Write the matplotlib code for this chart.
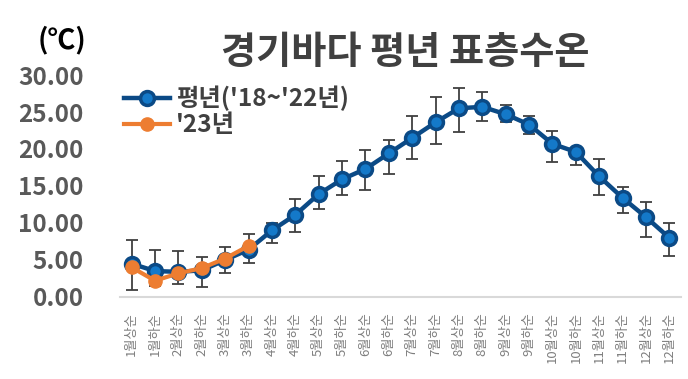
import numpy as np
import matplotlib
matplotlib.use('Agg')
import matplotlib.pyplot as plt

plt.rcParams['font.family'] = ['Noto Sans CJK KR', 'DejaVu Sans']

# data
periods = ['1월상순', '1월하순', '2월상순', '2월하순', '3월상순', '3월하순',
           '4월상순', '4월하순', '5월상순', '5월하순', '6월상순', '6월하순',
           '7월상순', '7월하순', '8월상순', '8월하순', '9월상순', '9월하순',
           '10월상순', '10월하순', '11월상순', '11월하순', '12월상순', '12월하순']
normal = [4.5, 3.5, 3.4, 3.6, 5.0, 6.4, 9.0, 11.1, 13.9, 15.9, 17.3, 19.4,
          21.5, 23.6, 25.5, 25.7, 24.7, 23.3, 20.7, 19.6, 16.3, 13.4, 10.8, 8.0]
normal_hi = [7.7, 6.4, 6.2, 5.4, 6.8, 8.5, 10.0, 13.2, 16.3, 18.4, 19.9, 21.2,
             24.4, 27.0, 28.2, 27.7, 25.9, 24.5, 22.4, 20.2, 18.6, 14.9, 12.9, 10.0]
normal_lo = [0.9, 1.5, 1.8, 1.4, 3.2, 4.6, 7.3, 8.8, 11.9, 13.8, 14.5, 16.6,
             18.7, 20.7, 22.3, 23.8, 23.7, 22.0, 18.3, 17.8, 13.8, 11.4, 8.1, 5.5]
y2023 = [4.0, 2.2, 3.2, 3.9, 5.2, 6.9]

x = np.arange(len(periods))
normal = np.array(normal)
yerr = [normal - np.array(normal_lo), np.array(normal_hi) - normal]

fig = plt.figure(figsize=(6.88, 3.79), dpi=100)
ax = fig.add_axes([0.1744, 0.2164, 0.8154, 0.5857])

ax.errorbar(x, normal, yerr=yerr, fmt='none', ecolor='#404040', elinewidth=1.3,
            capsize=4, capthick=1.3, zorder=2)
ax.plot(x, normal, color='#0b4a86', lw=3.2, marker='o', ms=10,
        mfc='#1479c9', mec='#0b4a86', mew=2.5, zorder=3, label="평년('18~'22년)")
ax.plot(x[:len(y2023)], y2023, color='#ed7d31', lw=3, marker='o', ms=9.5,
        mfc='#ed7d31', mec='#ed7d31', zorder=4, label="'23년")

ax.set_xlim(-0.5, len(periods) - 0.5)
ax.set_ylim(0, 30)
ax.set_yticks(np.arange(0, 31, 5))
ax.set_yticklabels(['%.2f' % v for v in np.arange(0, 31, 5)],
                   fontsize=17.5, fontweight='bold', color='#595959')
ax.set_xticks(x)
ax.set_xticklabels(periods, rotation=90, fontsize=9.5, color='#7f7f7f')
ax.tick_params(axis='y', length=0, pad=26)
ax.tick_params(axis='x', length=0, pad=11)
for s in ['top', 'right', 'left']:
    ax.spines[s].set_visible(False)
ax.spines['bottom'].set_color('#d9d9d9')
ax.spines['bottom'].set_linewidth(1.5)

leg = ax.legend(loc='upper left', bbox_to_anchor=(-0.01, 0.995), frameon=False,
                fontsize=17.5, handlelength=1.9, handletextpad=0.25, labelspacing=0.08,
                borderaxespad=0)
for t in leg.get_texts():
    t.set_color('#404040')
    t.set_fontweight('bold')

fig.text(0.589, 0.862, '경기바다 평년 표층수온', ha='center', va='center',
         fontsize=27.5, fontweight='bold', color='#404040')
fig.text(0.09, 0.895, '(℃)', ha='center', va='center', fontsize=20,
         fontweight='bold', color='#000000')

fig.savefig('out.png', dpi=100)
